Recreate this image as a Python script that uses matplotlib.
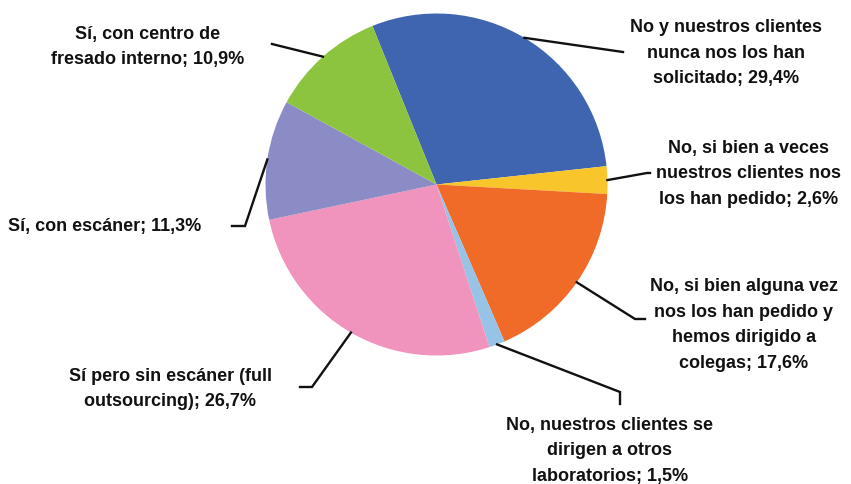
"""Gráfico de tarta: uso de CAD/CAM en laboratorios (respuestas en %)."""

import numpy as np
import matplotlib

matplotlib.use("Agg")
import matplotlib.pyplot as plt  # noqa: E402
from matplotlib.font_manager import fontManager  # noqa: E402

W_PX, H_PX = 851, 485
DPI = 100

labels = [
    "No y nuestros clientes\nnunca nos los han\nsolicitado; 29,4%",
    "No, si bien a veces\nnuestros clientes nos\nlos han pedido; 2,6%",
    "No, si bien alguna vez\nnos los han pedido y\nhemos dirigido a\ncolegas; 17,6%",
    "No, nuestros clientes se\ndirigen a otros\nlaboratorios; 1,5%",
    "Sí pero sin escáner (full\noutsourcing); 26,7%",
    "Sí, con escáner; 11,3%",
    "Sí, con centro de\nfresado interno; 10,9%",
]
values = [29.4, 2.6, 17.6, 1.5, 26.7, 11.3, 10.9]
colors = ["#4065b0", "#f8c52a", "#f06a28", "#97c3e6", "#f093bd", "#8b8bc5", "#8dc43f"]

# layout in pixel coords (y from top): text centre, leader elbow, leader end
LABEL_XY = [(726, 53), (749, 174), (744, 325), (610, 451), (170, 389), (105, 227), (148, 47)]
ELBOW_XY = [(623, 53), (647, 174), (635, 320), (620, 393), (312, 388), (245, 227), (272, 45)]
END_XY = [(623, 53), (650, 174), (645, 320), (620, 405), (300, 388), (232, 227), (272, 45)]

CENTER = (436.5, 185.5)
RADIUS = 171
START_ANGLE = 112


def _pick_font():
    names = {f.name for f in fontManager.ttflist}
    if "Liberation Sans Narrow" in names:
        return "Liberation Sans Narrow", 14.5
    return "Liberation Sans", 13


def _flip(p):
    return p[0], H_PX - p[1]


family, fsize = _pick_font()

fig = plt.figure(figsize=(W_PX / DPI, H_PX / DPI), dpi=DPI)
ax = fig.add_axes([0, 0, 1, 1])
ax.set_xlim(0, W_PX)
ax.set_ylim(0, H_PX)
ax.set_aspect("equal")
ax.axis("off")

cx, cy = _flip(CENTER)
wedges, _ = ax.pie(
    values,
    colors=colors,
    startangle=START_ANGLE,
    counterclock=False,
    center=(cx, cy),
    radius=RADIUS,
    wedgeprops=dict(linewidth=0),
)
ax.set_xlim(0, W_PX)
ax.set_ylim(0, H_PX)

for w, lab, lxy, exy, nxy in zip(wedges, labels, LABEL_XY, ELBOW_XY, END_XY):
    mid = np.deg2rad((w.theta1 + w.theta2) / 2)
    sx = cx + RADIUS * np.cos(mid)
    sy = cy + RADIUS * np.sin(mid)
    ex, ey = _flip(exy)
    nx, ny = _flip(nxy)
    ax.plot([sx, ex, nx], [sy, ey, ny], color="#111111", linewidth=1.7,
            solid_joinstyle="miter")
    tx, ty = _flip(lxy)
    ax.text(tx, ty, lab, ha="center", va="center", multialignment="center",
            fontsize=fsize, fontweight="bold", family=family, color="#111111",
            linespacing=1.65)

fig.savefig("out.png", dpi=DPI, facecolor="white")
